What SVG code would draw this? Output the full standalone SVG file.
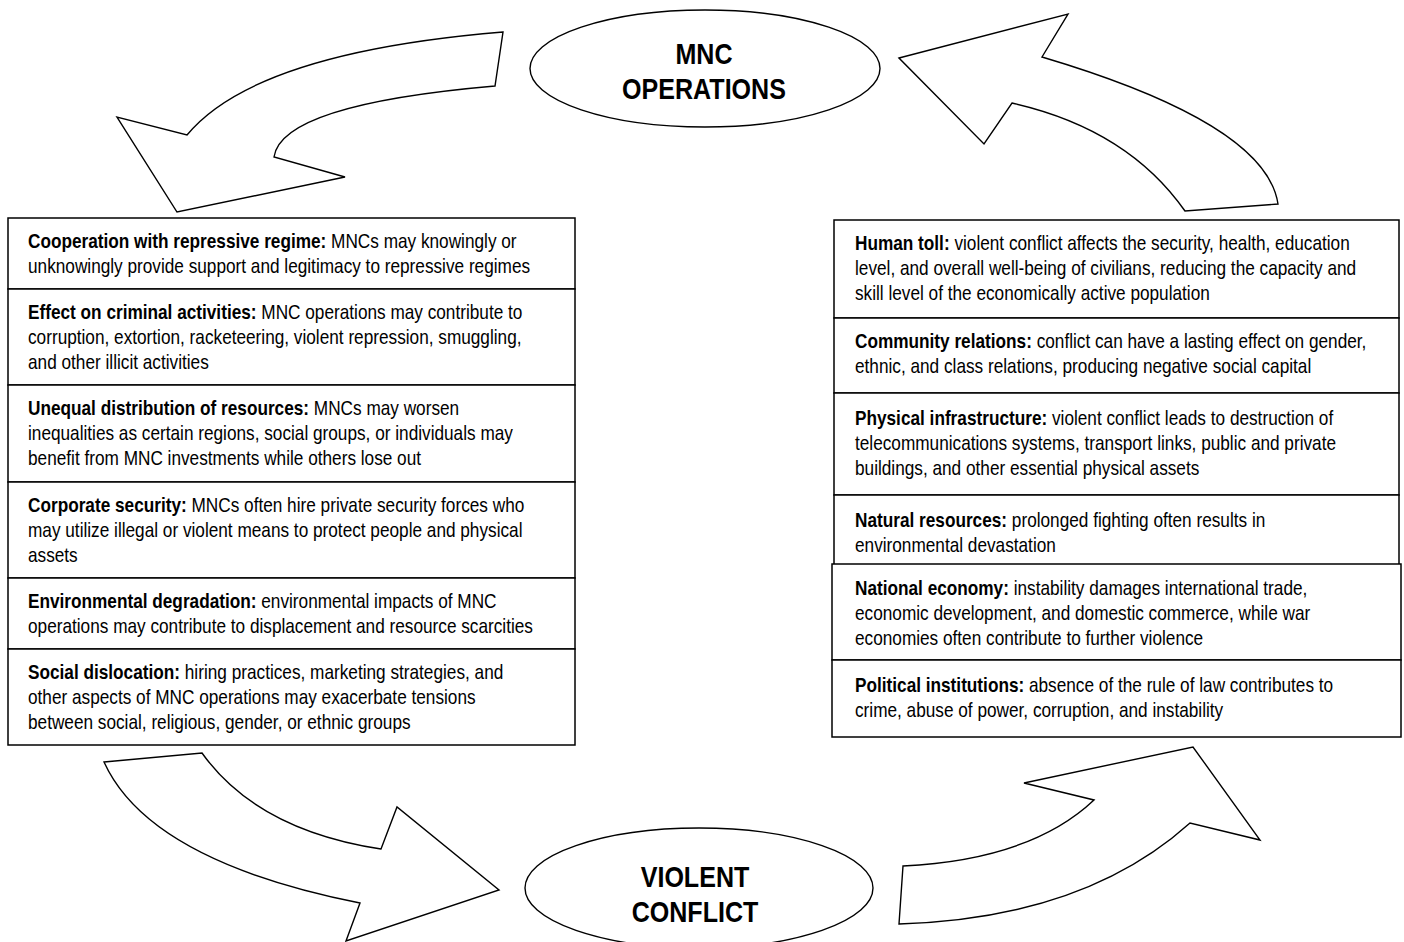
<svg xmlns="http://www.w3.org/2000/svg" width="1404" height="942" viewBox="0 0 1404 942">
<style>
.bg{fill:#fff}
.cell{fill:#fff;stroke:#000;stroke-width:1.5}
.arrow{fill:#fff;stroke:#000;stroke-width:1.4;stroke-linejoin:miter}
.oval{fill:#fff;stroke:#000;stroke-width:1.4}
.t{font-family:"Liberation Sans",Arial,sans-serif;font-size:21px;fill:#000}
.t .b{font-weight:bold}
.h{font-family:"Liberation Sans",Arial,sans-serif;font-size:29.5px;font-weight:bold;fill:#000;text-anchor:middle}
</style>
<rect class="bg" x="0" y="0" width="1404" height="942"/>

<g id="connectors">
  <path id="arrow-top-left" class="arrow" d="M503,32 Q255,52.5 187,135 L117,117 L177,212 L345,177 L274,157 Q281.5,104.5 495,86 Z"/>
  <path id="arrow-top-right" class="arrow" d="M899,58 L1068,14 L1042,57 Q1266,123.5 1278,204 L1185,211 Q1127.5,129 1012,103 L984,144 Z"/>
  <path id="arrow-bottom-left" class="arrow" d="M104,762 L202,753 Q257,830 381,849 L397,807 L499,890 L346,941 L360,903 Q149,861 104,762 Z"/>
  <path id="arrow-bottom-right" class="arrow" d="M899,924 L903,866 Q1031,859.6 1094,800 L1024,783 L1193,747 L1260,840 L1190,823 Q1084,918.4 899,924 Z"/>
</g>

<g id="mnc-operations">
  <ellipse class="oval" cx="705" cy="68.5" rx="175" ry="58.5"/>
  <g transform="translate(704,0) scale(0.85,1)">
    <text class="h" x="0" y="64">MNC</text>
    <text class="h" x="0" y="99">OPERATIONS</text>
  </g>
</g>

<g id="violent-conflict">
  <ellipse class="oval" cx="699" cy="888" rx="174" ry="60"/>
  <g transform="translate(695,0) scale(0.85,1)">
    <text class="h" x="0" y="887">VIOLENT</text>
    <text class="h" x="0" y="922">CONFLICT</text>
  </g>
</g>

<g id="left-effects">
  <g id="cooperation">
    <rect class="cell" x="8" y="218" width="567" height="71"/>
    <g transform="translate(28,0) scale(0.82,1)">
      <text class="t" x="0" y="248"><tspan class="b">Cooperation with repressive regime:</tspan> MNCs may knowingly or</text>
      <text class="t" x="0" y="273">unknowingly provide support and legitimacy to repressive regimes</text>
    </g>
  </g>
  <g id="criminal-activities">
    <rect class="cell" x="8" y="289" width="567" height="96"/>
    <g transform="translate(28,0) scale(0.82,1)">
      <text class="t" x="0" y="319"><tspan class="b">Effect on criminal activities:</tspan> MNC operations may contribute to</text>
      <text class="t" x="0" y="344">corruption, extortion, racketeering, violent repression, smuggling,</text>
      <text class="t" x="0" y="369">and other illicit activities</text>
    </g>
  </g>
  <g id="unequal-distribution">
    <rect class="cell" x="8" y="385" width="567" height="97"/>
    <g transform="translate(28,0) scale(0.82,1)">
      <text class="t" x="0" y="415"><tspan class="b">Unequal distribution of resources:</tspan> MNCs may worsen</text>
      <text class="t" x="0" y="440">inequalities as certain regions, social groups, or individuals may</text>
      <text class="t" x="0" y="465">benefit from MNC investments while others lose out</text>
    </g>
  </g>
  <g id="corporate-security">
    <rect class="cell" x="8" y="482" width="567" height="96"/>
    <g transform="translate(28,0) scale(0.82,1)">
      <text class="t" x="0" y="512"><tspan class="b">Corporate security:</tspan> MNCs often hire private security forces who</text>
      <text class="t" x="0" y="537">may utilize illegal or violent means to protect people and physical</text>
      <text class="t" x="0" y="562">assets</text>
    </g>
  </g>
  <g id="environmental-degradation">
    <rect class="cell" x="8" y="578" width="567" height="71"/>
    <g transform="translate(28,0) scale(0.82,1)">
      <text class="t" x="0" y="608"><tspan class="b">Environmental degradation:</tspan> environmental impacts of MNC</text>
      <text class="t" x="0" y="633">operations may contribute to displacement and resource scarcities</text>
    </g>
  </g>
  <g id="social-dislocation">
    <rect class="cell" x="8" y="649" width="567" height="96"/>
    <g transform="translate(28,0) scale(0.82,1)">
      <text class="t" x="0" y="679"><tspan class="b">Social dislocation:</tspan> hiring practices, marketing strategies, and</text>
      <text class="t" x="0" y="704">other aspects of MNC operations may exacerbate tensions</text>
      <text class="t" x="0" y="729">between social, religious, gender, or ethnic groups</text>
    </g>
  </g>
</g>

<g id="right-effects">
  <g id="human-toll">
    <rect class="cell" x="834" y="220" width="565" height="98"/>
    <g transform="translate(855,0) scale(0.82,1)">
      <text class="t" x="0" y="250"><tspan class="b">Human toll:</tspan> violent conflict affects the security, health, education</text>
      <text class="t" x="0" y="275">level, and overall well-being of civilians, reducing the capacity and</text>
      <text class="t" x="0" y="300">skill level of the economically active population</text>
    </g>
  </g>
  <g id="community-relations">
    <rect class="cell" x="834" y="318" width="565" height="75"/>
    <g transform="translate(855,0) scale(0.82,1)">
      <text class="t" x="0" y="348"><tspan class="b">Community relations:</tspan> conflict can have a lasting effect on gender,</text>
      <text class="t" x="0" y="373">ethnic, and class relations, producing negative social capital</text>
    </g>
  </g>
  <g id="physical-infrastructure">
    <rect class="cell" x="834" y="393" width="565" height="102"/>
    <g transform="translate(855,0) scale(0.82,1)">
      <text class="t" x="0" y="425"><tspan class="b">Physical infrastructure:</tspan> violent conflict leads to destruction of</text>
      <text class="t" x="0" y="450">telecommunications systems, transport links, public and private</text>
      <text class="t" x="0" y="475">buildings, and other essential physical assets</text>
    </g>
  </g>
  <g id="natural-resources">
    <rect class="cell" x="834" y="495" width="565" height="71"/>
    <g transform="translate(855,0) scale(0.82,1)">
      <text class="t" x="0" y="527"><tspan class="b">Natural resources:</tspan> prolonged fighting often results in</text>
      <text class="t" x="0" y="552">environmental devastation</text>
    </g>
  </g>
  <g id="national-economy">
    <rect class="cell" x="832" y="564" width="569" height="96"/>
    <g transform="translate(855,0) scale(0.82,1)">
      <text class="t" x="0" y="595"><tspan class="b">National economy:</tspan> instability damages international trade,</text>
      <text class="t" x="0" y="620">economic development, and domestic commerce, while war</text>
      <text class="t" x="0" y="645">economies often contribute to further violence</text>
    </g>
  </g>
  <g id="political-institutions">
    <rect class="cell" x="832" y="660" width="569" height="77"/>
    <g transform="translate(855,0) scale(0.82,1)">
      <text class="t" x="0" y="692"><tspan class="b">Political institutions:</tspan> absence of the rule of law contributes to</text>
      <text class="t" x="0" y="717">crime, abuse of power, corruption, and instability</text>
    </g>
  </g>
</g>
</svg>
